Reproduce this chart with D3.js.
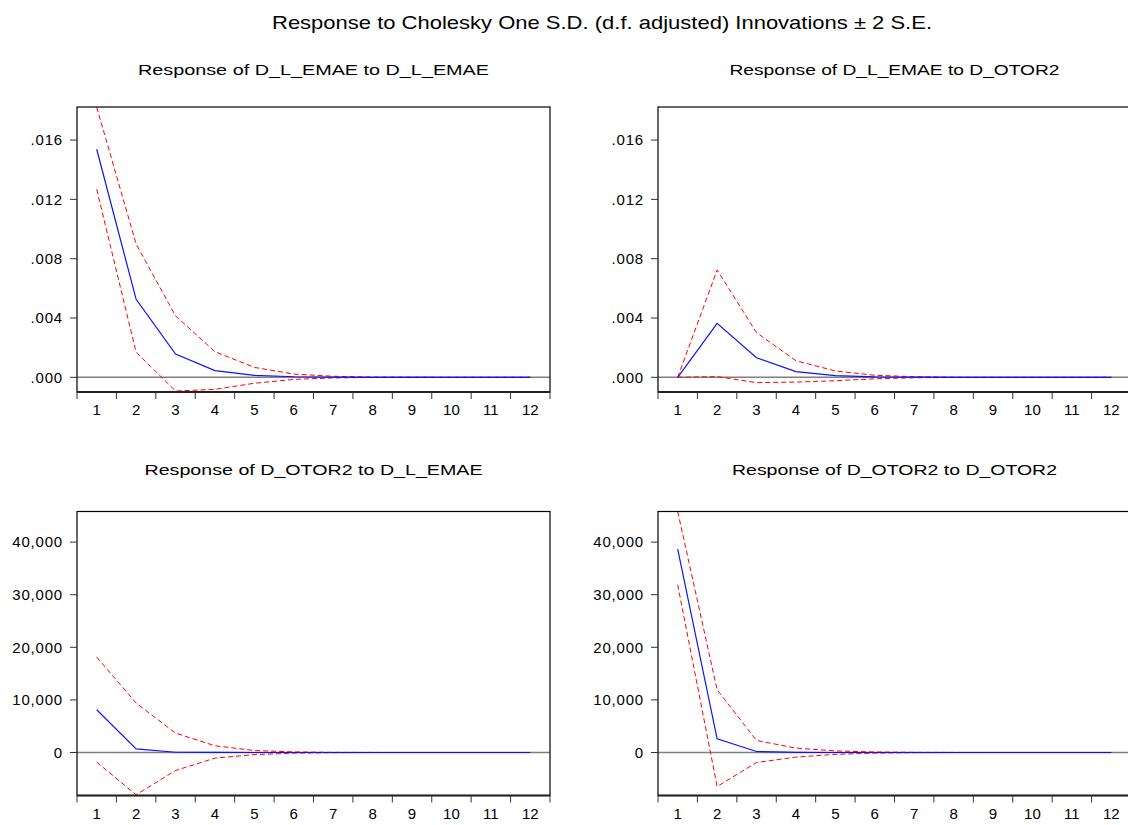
<html><head>
<meta charset="utf-8">
<title>Impulse responses</title>
<style type="text/css">
  body {margin:0; background:#fff;}
  text {font-family:"Liberation Sans", Arial, sans-serif; fill:#000;}
</style>
</head>
<body>
<script src="https://d3js.org/d3.v7.min.js"></script>
<script>
var width = 1128, height = 825;

var periods = [1,2,3,4,5,6,7,8,9,10,11,12];
var ticksSmall = [0, 0.004, 0.008, 0.012, 0.016];
var ticksBig = [0, 10000, 20000, 30000, 40000];

// D_L_EMAE -> D_L_EMAE
var emaeEmae      = [0.01538, 0.00526, 0.00157, 0.00045, 0.00013, 0.00004, 0.00001, 0, 0, 0, 0, 0];
var emaeEmaeUp    = [0.01822, 0.00899, 0.00414, 0.00173, 0.00067, 0.00022, 0.00007, 0.00002, 0.00001, 0, 0, 0];
var emaeEmaeLo    = [0.01268, 0.00169, -0.00092, -0.00081, -0.00040, -0.00014, -0.00004, -0.00001, 0, 0, 0, 0];
// D_L_EMAE -> D_OTOR2
var emaeOtor      = [0, 0.00364, 0.00132, 0.00038, 0.00011, 0.00003, 0.00001, 0, 0, 0, 0, 0];
var emaeOtorUp    = [0, 0.00724, 0.00301, 0.00112, 0.00043, 0.00014, 0.00004, 0.00001, 0, 0, 0, 0];
var emaeOtorLo    = [0, 0.00005, -0.00036, -0.00032, -0.00023, -0.00010, -0.00003, -0.00001, 0, 0, 0, 0];
// D_OTOR2 -> D_L_EMAE
var otorEmae      = [8118, 700, 50, 10, 0, 0, 0, 0, 0, 0, 0, 0];
var otorEmaeUp    = [18137, 9392, 3688, 1274, 380, 110, 30, 10, 0, 0, 0, 0];
var otorEmaeLo    = [-1825, -8042, -3422, -1065, -400, -120, -35, -10, 0, 0, 0, 0];
// D_OTOR2 -> D_OTOR2
var otorOtor      = [38669, 2605, 190, 20, 0, 0, 0, 0, 0, 0, 0, 0];
var otorOtorUp    = [45800, 11920, 2281, 836, 300, 100, 30, 10, 0, 0, 0, 0];
var otorOtorLo    = [31882, -6464, -1900, -875, -350, -120, -35, -10, 0, 0, 0, 0];

var svg = d3.select("body").append("svg")
    .attr("width", width).attr("height", height);

svg.append("text")
    .attr("x", 602).attr("y", 29)
    .attr("text-anchor", "middle")
    .attr("font-size", 19)
    .attr("textLength", 660).attr("lengthAdjust", "spacingAndGlyphs")
    .text("Response to Cholesky One S.D. (d.f. adjusted) Innovations \u00b1 2 S.E.");

var fmtSmall = function(v){ return d3.format(".3f")(v).replace(/^0/, ""); };
var fmtBig = d3.format(",");

var panels = [
  {title:"Response of D_L_EMAE to D_L_EMAE", x:77, y:107, h:285, dom:[-0.00099, 0.01823], ticks:ticksSmall, fmt:fmtSmall,
   resp:emaeEmae, up:emaeEmaeUp, lo:emaeEmaeLo, tlen:351, ty:75},
  {title:"Response of D_L_EMAE to D_OTOR2", x:658, y:107, h:285, dom:[-0.00099, 0.01823], ticks:ticksSmall, fmt:fmtSmall,
   resp:emaeOtor, up:emaeOtorUp, lo:emaeOtorLo, tlen:330, ty:75},
  {title:"Response of D_OTOR2 to D_L_EMAE", x:77, y:511.5, h:284, dom:[-8175, 45817], ticks:ticksBig, fmt:fmtBig,
   resp:otorEmae, up:otorEmaeUp, lo:otorEmaeLo, tlen:338, ty:475},
  {title:"Response of D_OTOR2 to D_OTOR2", x:658, y:511.5, h:284, dom:[-8175, 45817], ticks:ticksBig, fmt:fmtBig,
   resp:otorOtor, up:otorOtorUp, lo:otorOtorLo, tlen:325, ty:475}
];
var pw = 473;

panels.forEach(function(p, k){
  var x = d3.scaleBand().domain(periods).range([p.x, p.x + pw]);
  var y = d3.scaleLinear().domain(p.dom).range([p.y + p.h, p.y]);
  var g = svg.append("g");

  g.append("text")
    .attr("x", p.x + pw/2).attr("y", p.ty)
    .attr("text-anchor", "middle").attr("font-size", 14)
    .attr("textLength", p.tlen).attr("lengthAdjust", "spacingAndGlyphs")
    .text(p.title);

  svg.append("clipPath").attr("id", "clip" + k)
    .append("rect").attr("x", p.x).attr("y", p.y).attr("width", pw).attr("height", p.h);

  // zero line
  g.append("line")
    .attr("x1", p.x).attr("x2", p.x + pw)
    .attr("y1", y(0)).attr("y2", y(0))
    .attr("stroke", "#808080").attr("stroke-width", 1.5);

  var line = d3.line()
    .x(function(d, i){ return x(periods[i]) + x.bandwidth()/2; })
    .y(function(d){ return y(d); });

  var lines = g.append("g").attr("clip-path", "url(#clip" + k + ")");
  [p.up, p.lo].forEach(function(s){
    lines.append("path").attr("d", line(s))
      .attr("fill", "none").attr("stroke", "#ff0000").attr("stroke-width", 1)
      .attr("stroke-dasharray", "5,3");
  });
  lines.append("path").attr("d", line(p.resp))
    .attr("fill", "none").attr("stroke", "#1010ff").attr("stroke-width", 1.2);

  // frame
  g.append("rect")
    .attr("x", p.x).attr("y", p.y).attr("width", pw).attr("height", p.h)
    .attr("fill", "none").attr("stroke", "#000").attr("stroke-width", 1.2);
  g.append("line")
    .attr("x1", p.x).attr("x2", p.x + pw)
    .attr("y1", p.y + p.h).attr("y2", p.y + p.h)
    .attr("stroke", "#222").attr("stroke-width", 2);

  // x ticks at band edges, labels centered
  var edges = periods.map(function(d){ return x(d); }).concat([p.x + pw]);
  g.selectAll(".xt").data(edges).enter().append("line")
    .attr("x1", function(d){ return d; }).attr("x2", function(d){ return d; })
    .attr("y1", p.y + p.h).attr("y2", p.y + p.h + 7)
    .attr("stroke", "#333").attr("stroke-width", 1);
  g.selectAll(".xl").data(periods).enter().append("text")
    .attr("x", function(d){ return x(d) + x.bandwidth()/2; })
    .attr("y", p.y + p.h + 23)
    .attr("text-anchor", "middle").attr("font-size", 15)
    .text(function(d){ return d; });

  // y ticks
  g.selectAll(".yt").data(p.ticks).enter().append("line")
    .attr("x1", p.x - 7).attr("x2", p.x)
    .attr("y1", function(d){ return y(d); }).attr("y2", function(d){ return y(d); })
    .attr("stroke", "#333").attr("stroke-width", 1);
  g.selectAll(".yl").data(p.ticks).enter().append("text")
    .attr("x", p.x - 14)
    .attr("y", function(d){ return y(d); })
    .attr("dy", "0.35em")
    .attr("text-anchor", "end").attr("font-size", 15)
    .attr("letter-spacing", "0.8px")
    .text(function(d){ return p.fmt(d); });
});
</script>
</body></html>
